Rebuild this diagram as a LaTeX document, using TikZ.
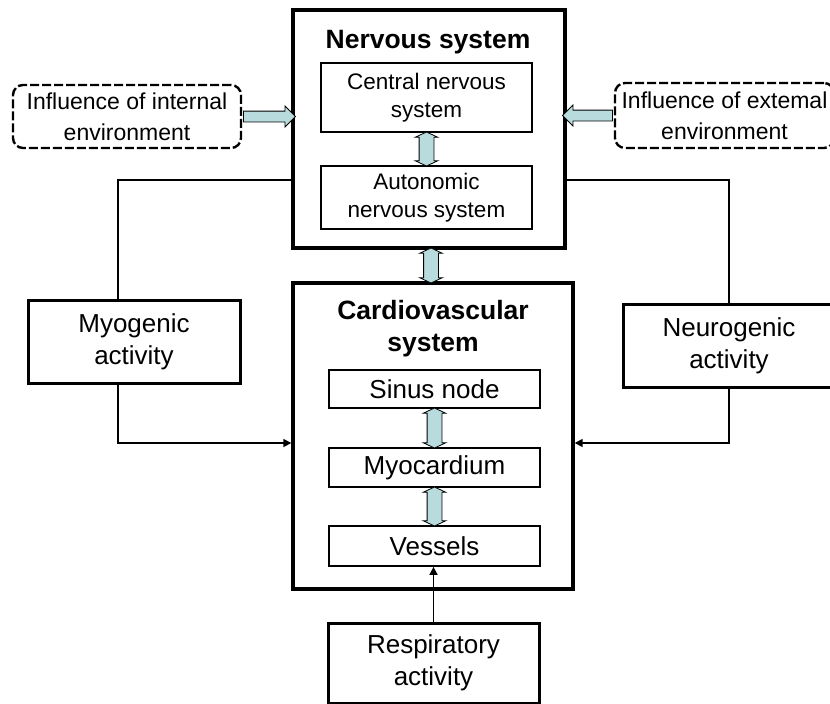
\documentclass[tikz,border=0pt]{standalone}
\usepackage{fontspec}
\setmainfont{Liberation Sans}
\usetikzlibrary{shapes.arrows}
\usetikzlibrary{arrows.meta}
\usetikzlibrary{calc}
\definecolor{arrowblue}{RGB}{184,220,222}
\tikzset{
  bigbox/.style={draw, line width=3.4pt, inner sep=0pt},
  title/.style={align=center, font=\fontsize{26.5}{32}\selectfont\bfseries},
  nervbox/.style={draw, line width=1.8pt, align=center, inner sep=0pt, minimum width=211pt, font=\fontsize{22.5}{28}\selectfont},
  heartbox/.style={draw, line width=1.8pt, align=center, inner sep=0pt, minimum width=211pt, font=\fontsize{26}{31}\selectfont},
  actbox/.style={draw, line width=3pt, align=center, inner sep=0pt, minimum height=83pt, font=\fontsize{26}{32}\selectfont},
  envbox/.style={draw, line width=2.4pt, dash pattern=on 9pt off 3pt, rounded corners=10pt, align=center, inner sep=0pt, font=\fontsize{23}{31}\selectfont},
  blockarrow/.style={single arrow, draw, fill=arrowblue, line width=0.8pt, inner sep=5pt, single arrow head extend=5pt, minimum width=20pt, minimum height=#1},
  dblarrow/.style={double arrow, draw, fill=arrowblue, line width=0.8pt, inner sep=7pt, double arrow head extend=4pt, double arrow tip angle=130, minimum width=22pt, minimum height=#1, rotate=90},
  link/.style={line width=1.6pt},
  linkarrow/.style={line width=1.6pt, -{Triangle[length=8pt,width=8pt]}}
}
\begin{document}
\begin{tikzpicture}[x=1pt,y=-1pt]
		\useasboundingbox (0,0) rectangle (830,704);
		\clip (0,0) rectangle (830,704);
		
		% draw the two big boxes
		\node[bigbox, minimum width=272pt, minimum height=238pt] (nerv) at (429,129) {};
		\node[bigbox, minimum width=280pt, minimum height=306pt] (card) at (433,436) {};
		\node[title] (nervt) at (428,42) {Nervous system};
		\node[title] (cardt) at (433,329) {Cardiovascular\\system};
		
		% draw boxes inside
		\node[nervbox, minimum height=69pt] (cns) at (426.5,97.5) {Central nervous\\system};
		\node[nervbox, minimum height=63pt] (ans) at (426.5,197.5) {Autonomic\\nervous system};
		\node[heartbox, minimum height=38pt] (sinus) at (434.5,389) {Sinus node};
		\node[heartbox, minimum height=39pt] (myoc) at (434.5,467.5) {Myocardium};
		\node[heartbox, minimum height=40pt] (ves) at (434.5,546) {Vessels};
		
		% draw outside boxes
		\node[envbox, minimum width=228pt, minimum height=63pt] (intl) at (127,116.5) {Influence of internal\\environment};
		\node[envbox, minimum width=219pt, minimum height=65pt] (extl) at (724.5,115.5) {Influence of extemal\\environment};
		\node[actbox, minimum width=212pt] (myo) at (134,341.5) {Myogenic\\activity};
		\node[actbox, minimum width=212pt] (neuro) at (729,345.5) {Neurogenic\\activity};
		\node[actbox, minimum width=211pt, minimum height=80pt] (resp) at (433.5,663) {Respiratory\\activity};
		
		% draw block arrows
		\node[blockarrow=52pt] (inarr) at ($(intl.east)!0.5!(nerv.west |- intl.east)$) {};
		\node[blockarrow=50pt, shape border rotate=180] (exarr) at ($(extl.west)!0.5!(nerv.east |- extl.west)$) {};
		\node[dblarrow=34pt] (a1) at ($(cns.south)!0.5!(ans.north)$) {};
		\node[dblarrow=35pt] (a2) at ($(nerv.south)!0.5!(card.north)$) {};
		\node[dblarrow=40pt] (a3) at ($(sinus.south)!0.5!(myoc.north)$) {};
		\node[dblarrow=39pt] (a4) at ($(myoc.south)!0.5!(ves.north)$) {};
		
		% draw lines
		\draw[link] ([xshift=-16pt]myo.north) |- ([yshift=-51pt]nerv.west);
		\draw[linkarrow] ([xshift=-16pt]myo.south) |- ([yshift=-7pt]card.west);
		\draw[link] (neuro.north) |- ([yshift=-51pt]nerv.east);
		\draw[linkarrow] (neuro.south) |- ([yshift=-7pt]card.east);
		\draw[linkarrow] (resp.north) -- (resp.north |- ves.south);
		\end{tikzpicture}
\end{document}
